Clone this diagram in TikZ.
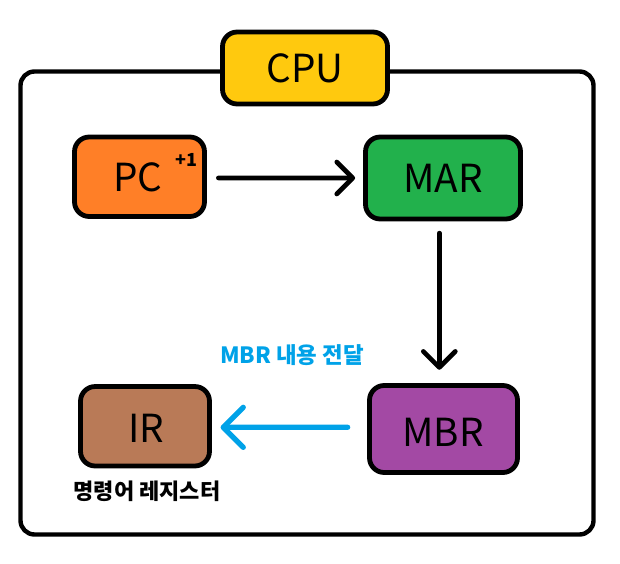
\documentclass[tikz,border=0pt]{standalone}
\usepackage{fontspec}
\setmainfont{Noto Sans CJK KR}
\usetikzlibrary{arrows.meta}
\definecolor{cpuY}{HTML}{FFC90E}
\definecolor{pcO}{HTML}{FF7F27}
\definecolor{marG}{HTML}{22B14C}
\definecolor{mbrP}{HTML}{A349A4}
\definecolor{irB}{HTML}{B97A57}
\definecolor{skyB}{HTML}{00A2E8}
\tikzset{
  reg/.style={draw=black, line width=3.6pt, rounded corners=11pt, inner sep=0pt,
    font=\fontsize{29}{32}\selectfont, text=black},
  blkarr/.style={line width=3.5pt, line cap=round, draw=black,
    -{Straight Barb[length=12pt,width=24pt,round]}},
  bluarr/.style={line width=4pt, line cap=round, draw=skyB,
    -{Straight Barb[length=15pt,width=30pt,round]}},
}
\begin{document}
\begin{tikzpicture}[x=0.75pt,y=-0.75pt]
\useasboundingbox (0,0) rectangle (620,563);
% outer CPU frame
\draw[line width=3.3pt, rounded corners=10.5pt] (20.5,71.5) rectangle (593.5,534.5);
\node[reg, fill=cpuY, minimum width=123.75pt, minimum height=54pt] (cpu) at (305,68) {CPU};
\node[reg, fill=pcO, minimum width=97.5pt, minimum height=59.6pt] (pc) at (139.5,176.75) {};
\node (pctext) at (138,177) {\fontsize{29}{32}\selectfont PC};
\node (plus) at (186.5,160) {\fontsize{13.5}{15}\selectfont\bfseries +1};
\node[reg, fill=marG, minimum width=116.25pt, minimum height=61.5pt] (mar) at (443,178) {MAR};
\node[reg, fill=mbrP, minimum width=111pt, minimum height=65.25pt] (mbr) at (443.5,429) {};
\node (mbrtext) at (443,432) {\fontsize{29}{32}\selectfont MBR};
\node[reg, fill=irB, minimum width=96.75pt, minimum height=59.6pt] (ir) at (145,426.25) {};
\node (irtext) at (146,428.5) {\fontsize{29}{32}\selectfont IR};
\node[font=\fontsize{16.5}{19}\selectfont\bfseries] (irlabel) at (147,491) {명령어 레지스터};
\node[font=\fontsize{16.8}{19}\selectfont\bfseries, text=skyB] (xfer) at (292,355) {MBR 내용 전달};
% connectors
\draw[blkarr] ([xshift=8.6pt,yshift=-0.9pt]pc.east) -- ([xshift=-6pt]mar.west);
\draw[blkarr] ([yshift=-8.8pt]mar.south -| 439.3,0) -- ([yshift=10pt]mbr.north -| 439.3,0);
\draw[bluarr] ([xshift=-14.6pt,yshift=1.3pt]mbr.west) -- ([xshift=6.5pt,yshift=-0.8pt]ir.east);
\end{tikzpicture}
\end{document}
